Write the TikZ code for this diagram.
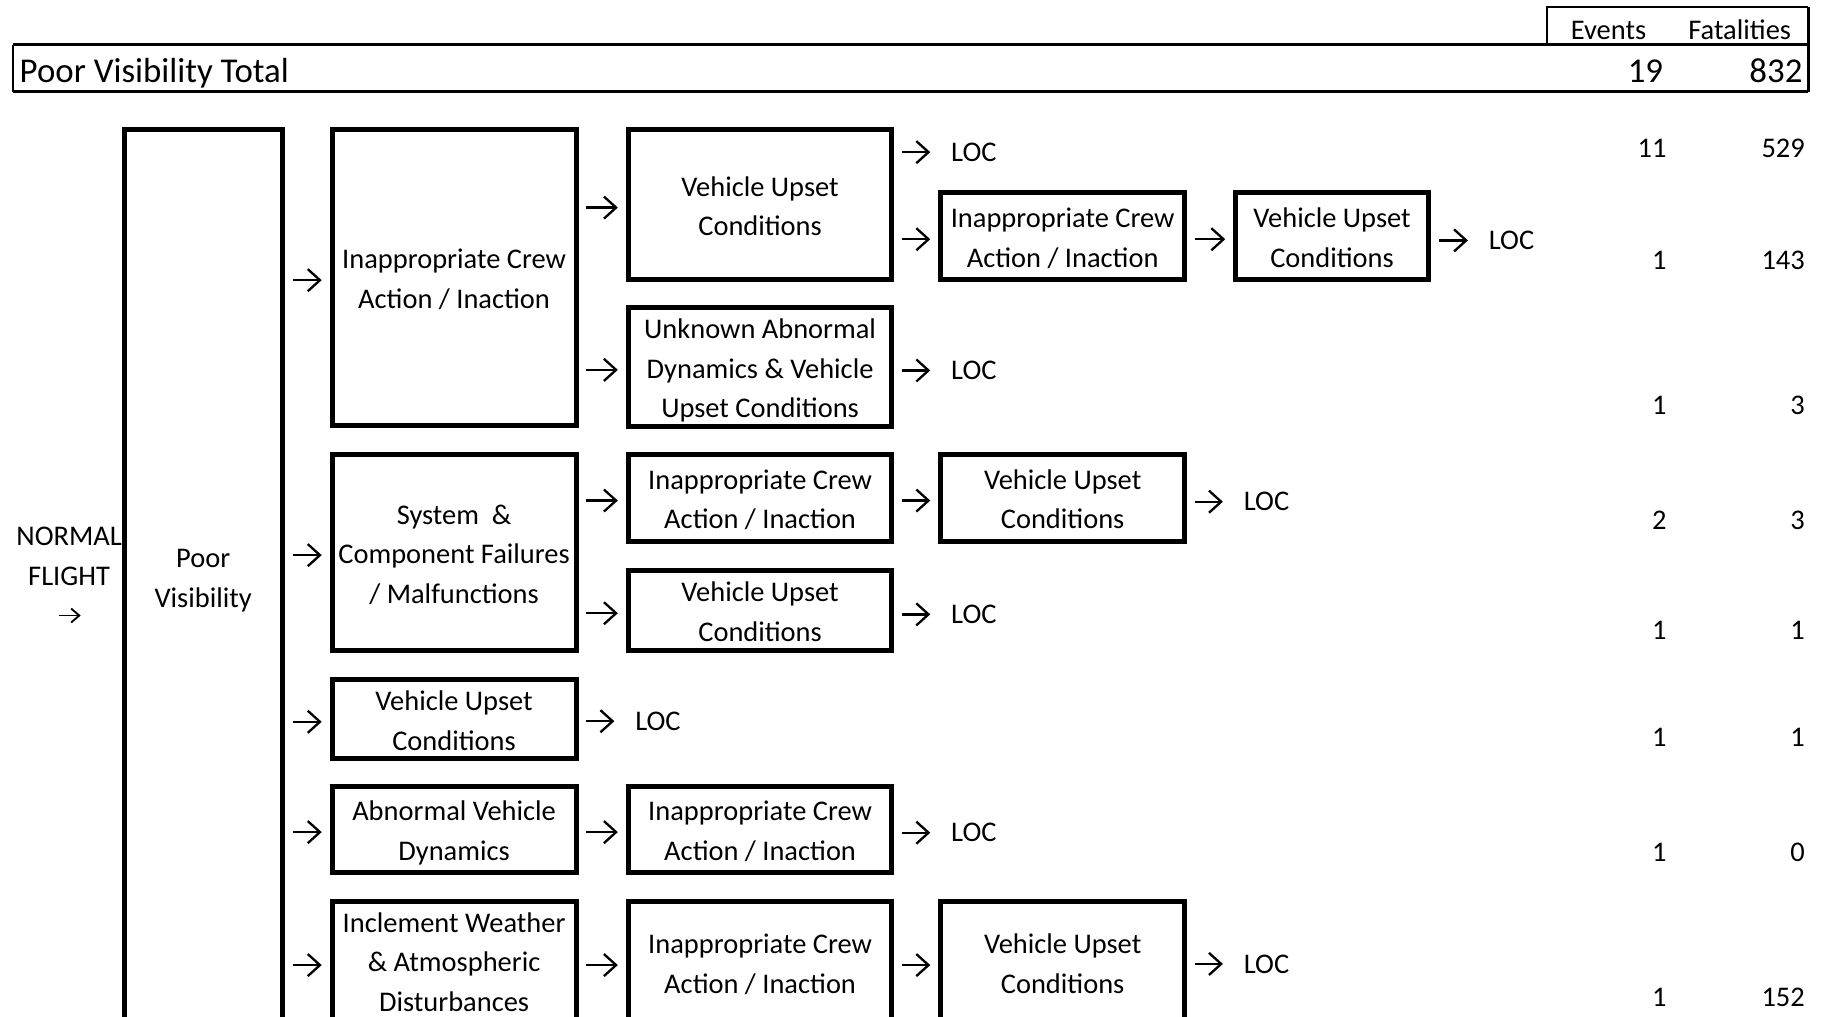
\documentclass[tikz,border=0pt]{standalone}
\usepackage{fontspec}
\setmainfont{Carlito}
\usetikzlibrary{arrows.meta}
\newcommand\bodyf{\fontsize{24.5}{34}\selectfont}
\newcommand\bigf{\fontsize{30}{34}\selectfont}
% line strut: keeps every text line the same height inside the boxes
\newcommand\sr{\rule[-7.2pt]{0pt}{34pt}}
\begin{document}
\begin{tikzpicture}[x=1pt,y=-1pt,
  blk/.style={draw, line width=4.3pt, inner sep=0pt, outer sep=0pt, align=center, font=\bodyf},
  lbl/.style={inner sep=0pt, outer sep=0pt, font=\bodyf},
  num/.style={inner sep=0pt, outer sep=0pt, font=\bodyf, anchor=base east},
  arr/.style={line width=2pt, -{Straight Barb[length=10.5pt,width=19pt]}, shorten <=9pt, shorten >=9pt, transform canvas={yshift=-2.5pt}},
  locarr/.style={line width=2pt, -{Straight Barb[length=10.5pt,width=19pt]}, shorten <=9pt, shorten >=18pt},
  smallarr/.style={line width=1.6pt, -{Straight Barb[length=7pt,width=12pt]}}
]
\useasboundingbox (0,0) rectangle (1568,875);
\clip (0,0) rectangle (1568,875);

% header row with totals
\draw[line width=1.7pt] (1332,38.5) -- (1332,6) -- (1557,6);
\draw[line width=2.3pt] (1557,6) -- (1557,79);
\draw[line width=1.7pt] (11,38.5) -- (11,79);
\draw[line width=2.5pt] (11,38.5) -- (1557,38.5);
\draw[line width=3pt] (11,79) -- (1557,79);
\node[lbl, anchor=base] (hev) at (1385,34) {Events};
\node[lbl, anchor=base] (hfat) at (1498,34) {Fatalities};
\node[lbl, font=\bigf, anchor=base west] (total) at (17,71) {Poor Visibility Total};
\node[num, font=\bigf] (tev) at (1432,71) {19};
\node[num, font=\bigf] (tfat) at (1552,71) {832};

% starting point
\node[lbl, align=center] (nf) at (59.5,480) {\strut NORMAL\\\strut FLIGHT};
\coordinate (nfs) at (50.5,530);
\coordinate (nfe) at (69.5,530);
\draw[smallarr] (nfs) -- (nfe);

% event chain boxes
\node[blk, minimum width=136pt, minimum height=769.5pt] (pv) at (175,496.25) {\sr Poor\\\sr Visibility};

\node[blk, minimum width=210pt, minimum height=254.5pt] (ic1) at (391,238.75) {\sr Inappropriate Crew\\\sr Action / Inaction};
\node[blk, minimum width=210pt, minimum height=169pt] (sc) at (391,475.5) {\sr System\ \ \&\\\sr Component Failures\\\sr / Malfunctions};
\node[blk, minimum width=210pt, minimum height=68pt] (vuc) at (391,619) {\sr Vehicle Upset\\\sr Conditions};
\node[blk, minimum width=210pt, minimum height=74pt] (avd) at (391,714) {\sr Abnormal Vehicle\\\sr Dynamics};
\node[blk, minimum width=210pt, minimum height=102pt] (iw) at (391,827) {\sr Inclement Weather\\\sr \& Atmospheric\\\sr Disturbances};

\node[blk, minimum width=227pt, minimum height=129.5pt] (vu1) at (654.5,176.25) {\sr Vehicle Upset\\\sr Conditions};
\node[blk, minimum width=227pt, minimum height=100pt] (uad) at (654.5,316) {\sr Unknown Abnormal\\\sr Dynamics \& Vehicle\\\sr Upset Conditions};
\node[blk, minimum width=227pt, minimum height=75pt] (ic2) at (654.5,428.5) {\sr Inappropriate Crew\\\sr Action / Inaction};
\node[blk, minimum width=227pt, minimum height=69pt] (vu2) at (654.5,525.5) {\sr Vehicle Upset\\\sr Conditions};
\node[blk, minimum width=227pt, minimum height=74pt] (ic3) at (654.5,714) {\sr Inappropriate Crew\\\sr Action / Inaction};
\node[blk, minimum width=227pt, minimum height=105pt] (ic4) at (654.5,828.5) {\sr Inappropriate Crew\\\sr Action / Inaction};

\node[blk, minimum width=210pt, minimum height=75pt] (ic5) at (915,203.5) {\sr Inappropriate Crew\\\sr Action / Inaction};
\node[blk, minimum width=210pt, minimum height=75pt] (vu3) at (915,428.5) {\sr Vehicle Upset\\\sr Conditions};
\node[blk, minimum width=210pt, minimum height=105pt] (vu4) at (915,828.5) {\sr Vehicle Upset\\\sr Conditions};

\node[blk, minimum width=166pt, minimum height=75pt] (vu5) at (1147,203.5) {\sr Vehicle Upset\\\sr Conditions};

% outcomes
\node[lbl, anchor=west] (loc1) at (819,131) {LOC};
\node[lbl, anchor=west] (loc2) at (819,319) {LOC};
\node[lbl, anchor=west] (loc3) at (547,621) {LOC};
\node[lbl, anchor=west] (loc4) at (819,529) {LOC};
\node[lbl, anchor=west] (loc5) at (819,717) {LOC};
\node[lbl, anchor=west] (loc6) at (1071,432) {LOC};
\node[lbl, anchor=west] (loc7) at (1071,830) {LOC};
\node[lbl, anchor=west] (loc8) at (1282,207) {LOC};

% connectors between boxes
\draw[arr] (pv.east |- ic1.west) -- (ic1.west);
\draw[arr] (pv.east |- sc.west) -- (sc.west);
\draw[arr] (pv.east |- vuc.west) -- (vuc.west);
\draw[arr] (pv.east |- avd.west) -- (avd.west);
\draw[arr] (pv.east |- ic4.west) -- (iw.west |- ic4.west);

\draw[arr] (ic1.east |- vu1.west) -- (vu1.west);
\draw[arr] (ic1.east |- uad.west) -- (uad.west);
\draw[arr] (sc.east |- ic2.west) -- (ic2.west);
\draw[arr] (sc.east |- vu2.west) -- (vu2.west);
\draw[arr] (avd.east |- ic3.west) -- (ic3.west);
\draw[arr] (iw.east |- ic4.west) -- (ic4.west);

\draw[arr] (vu1.east |- ic5.west) -- (ic5.west);
\draw[arr] (ic2.east |- vu3.west) -- (vu3.west);
\draw[arr] (ic4.east |- vu4.west) -- (vu4.west);
\draw[arr] (ic5.east |- vu5.west) -- (vu5.west);

% connectors to loss of control
\draw[locarr] (vu1.east |- loc1.west) -- (loc1.west);
\draw[locarr] (uad.east |- loc2.west) -- (loc2.west);
\draw[locarr] (vuc.east |- loc3.west) -- (loc3.west);
\draw[locarr] (vu2.east |- loc4.west) -- (loc4.west);
\draw[locarr] (ic3.east |- loc5.west) -- (loc5.west);
\draw[locarr] (vu3.east |- loc6.west) -- (loc6.west);
\draw[locarr] (vu4.east |- loc7.west) -- (loc7.west);
\draw[locarr] (vu5.east |- loc8.west) -- (loc8.west);

% events and fatalities per chain
\foreach \e/\f/\y [count=\i] in {11/529/136, 1/143/232, 1/3/357, 2/3/456, 1/1/551, 1/1/643, 1/0/742, 1/152/867} {
  \node[num] (ev\i) at (1435,\y) {\e};
  \node[num] (fa\i) at (1554,\y) {\f};
}
\end{tikzpicture}
\end{document}
